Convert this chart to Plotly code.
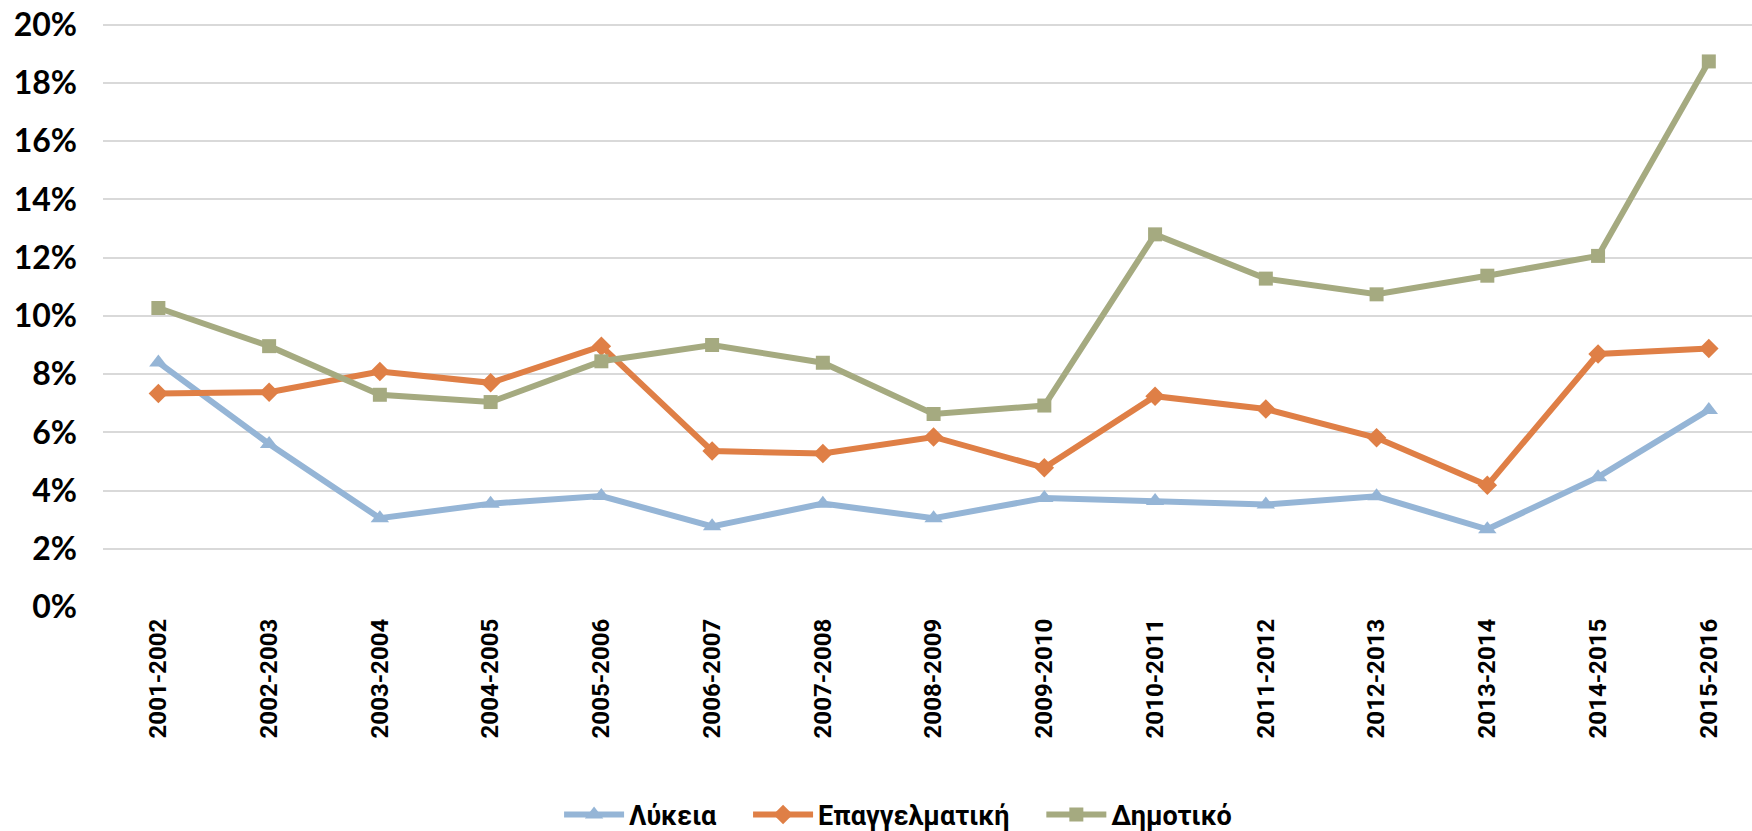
import plotly.graph_objects as go

# ==========================================================
# DATA
# ==========================================================

years = [
    "2001-2002", "2002-2003", "2003-2004", "2004-2005", "2005-2006",
    "2006-2007", "2007-2008", "2008-2009", "2009-2010", "2010-2011",
    "2011-2012", "2012-2013", "2013-2014", "2014-2015", "2015-2016",
]

lykeia = [0.0840, 0.0560, 0.0305, 0.0355, 0.0381, 0.0277, 0.0355, 0.0305,
          0.0374, 0.0364, 0.0352, 0.0380, 0.0267, 0.0446, 0.0677]

epaggelmatiki = [0.0733, 0.0738, 0.0809, 0.0770, 0.0896, 0.0536, 0.0527, 0.0584,
                 0.0478, 0.0724, 0.0680, 0.0581, 0.0418, 0.0869, 0.0888]

dimotiko = [0.1027, 0.0896, 0.0729, 0.0704, 0.0844, 0.0900, 0.0839, 0.0663,
            0.0692, 0.1280, 0.1128, 0.1074, 0.1138, 0.1206, 0.1874]

y_ticks = [0.0, 0.02, 0.04, 0.06, 0.08, 0.10, 0.12, 0.14, 0.16, 0.18, 0.20]

# ==========================================================
# THEME
# ==========================================================

BLUE = "#95B5D6"
ORANGE = "#DF7F46"
GREEN = "#A5AA80"
GRID = "#D9D9D9"

# trailing no-break spaces widen the gap between legend entries
PAD = "\u00a0" * 4

series = [
    ("Λύκεια" + PAD, lykeia, BLUE, "triangle-up", 16),
    ("Επαγγελματική" + PAD, epaggelmatiki, ORANGE, "diamond", 15),
    ("Δημοτικό", dimotiko, GREEN, "square", 14),
]

fig = go.Figure()

for name, values, color, symbol, size in series:

    fig.add_trace(
        go.Scatter(
            x=years,
            y=values,
            name=name,
            mode="lines+markers",
            line=dict(color=color, width=6),
            marker=dict(symbol=symbol, size=size, color=color),
        )
    )

fig.update_layout(
    width=1752,
    height=831,
    paper_bgcolor="white",
    plot_bgcolor="white",
    margin=dict(l=103, r=0, t=23, b=224),
    showlegend=True,
    legend=dict(
        orientation="h",
        xref="container",
        yref="container",
        x=0.5126,
        xanchor="center",
        y=0.0193,
        yanchor="middle",
        font=dict(family="Roboto", size=27, color="black", weight="bold"),
        itemwidth=60,
        tracegroupgap=0,
    ),
)

fig.update_xaxes(
    type="category",
    range=[-0.5, 14.39],
    automargin=False,
    showgrid=False,
    showline=False,
    zeroline=False,
    tickangle=-90,
    ticks="",
    ticklabelstandoff=6,
    tickfont=dict(family="Roboto", size=24, color="black", weight="bold"),
)

# small headroom above 20% so its gridline is kept
fig.update_yaxes(
    range=[0, 0.2006],
    tickmode="array",
    tickvals=y_ticks,
    tickformat=".0%",
    automargin=False,
    showgrid=True,
    gridcolor=GRID,
    gridwidth=2,
    zeroline=False,
    showline=False,
    ticks="",
    ticklabelstandoff=25,
    tickfont=dict(family="Lato", size=32, color="black", weight="bold"),
)

# drop the default page margin so the figure sits at the window's corner
fig.write_html(
    "out.html",
    config={"displayModeBar": False},
    post_script="document.body.style.margin = '0';",
)
